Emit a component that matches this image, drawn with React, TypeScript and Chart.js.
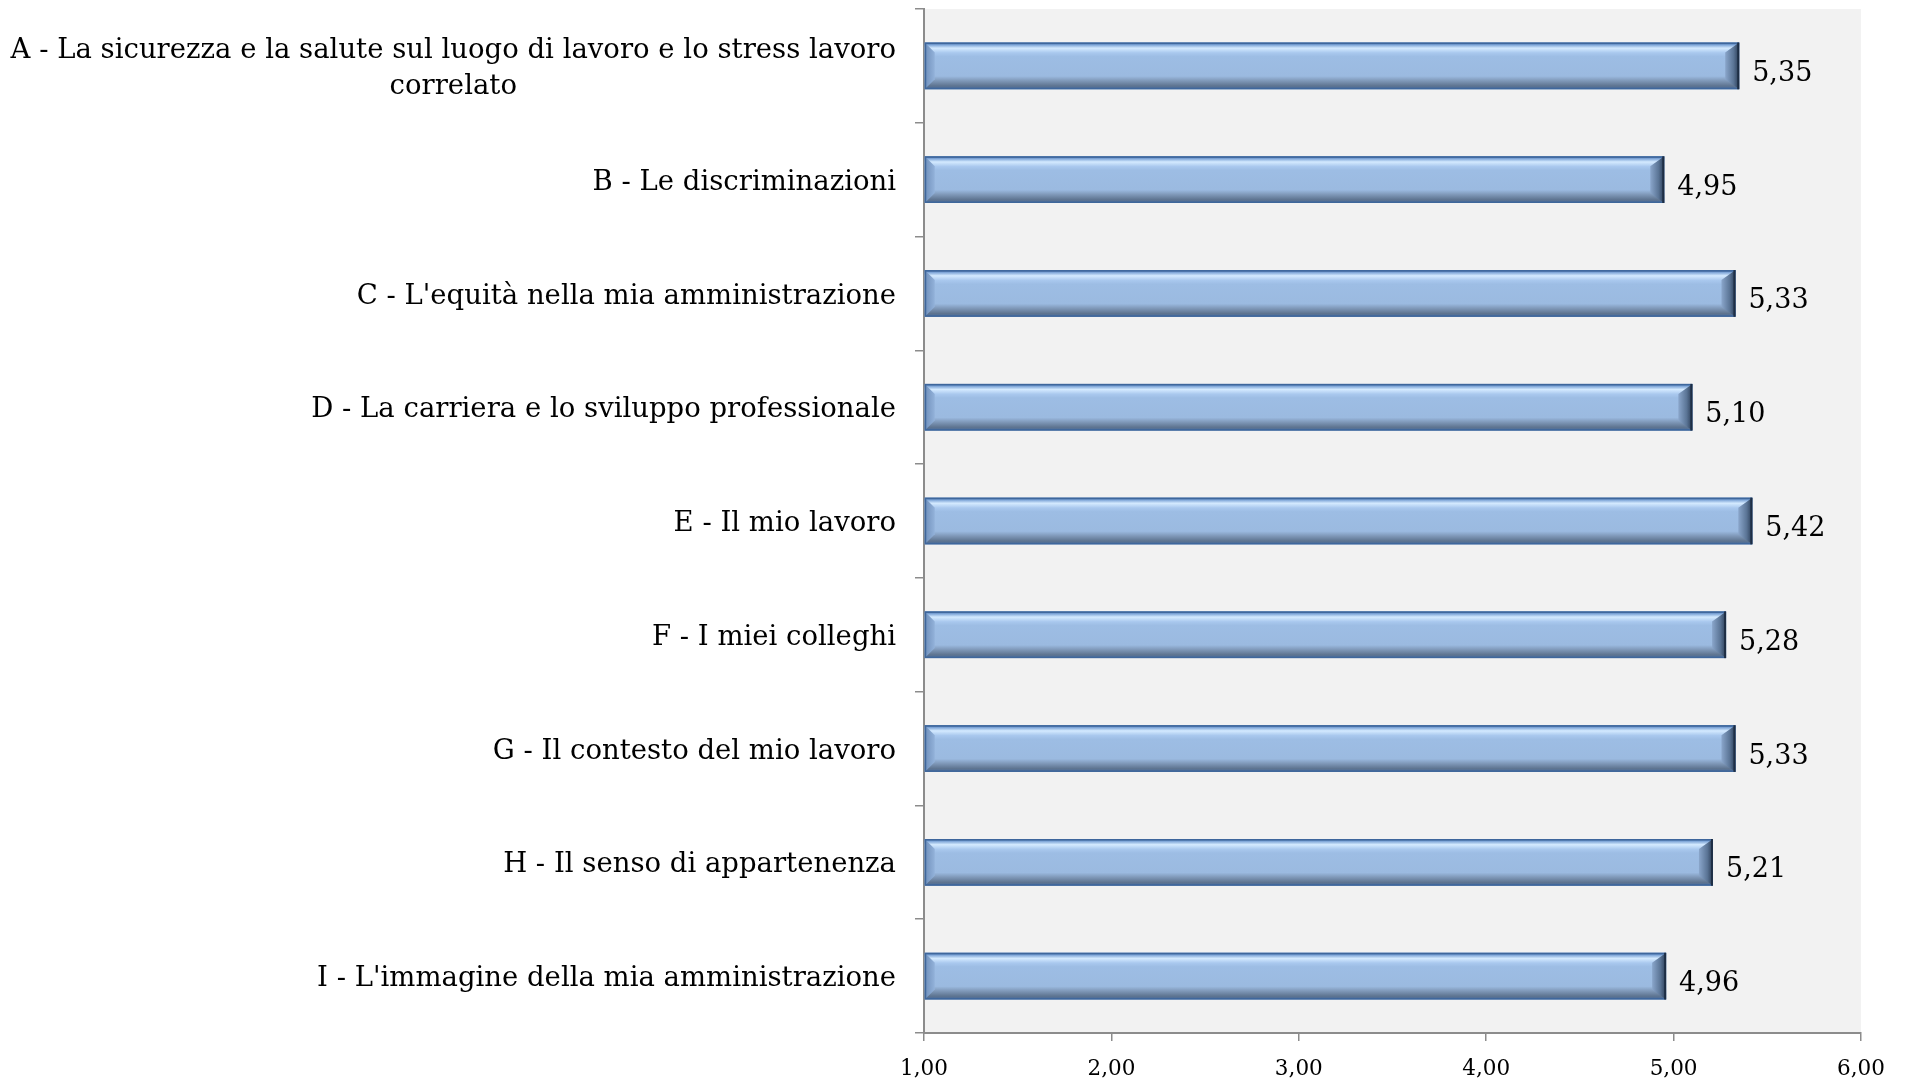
import React, { useEffect, useRef } from "react";
import { Chart, registerables } from "chart.js";

Chart.register(...registerables);

const categories: string[][] = [
  ["A - La sicurezza e la salute sul luogo di lavoro e lo stress lavoro", "correlato"],
  ["B - Le discriminazioni"],
  ["C - L'equità nella mia amministrazione"],
  ["D - La carriera e lo sviluppo professionale"],
  ["E - Il mio lavoro"],
  ["F - I miei colleghi"],
  ["G - Il contesto del mio lavoro"],
  ["H - Il senso di appartenenza"],
  ["I - L'immagine della mia amministrazione"],
];
const values: number[] = [5.35, 4.95, 5.33, 5.1, 5.42, 5.28, 5.33, 5.21, 4.96];
const xMin = 1;
const xMax = 6;
const xStep = 1;

const fmt = (v: number) => v.toFixed(2).replace(".", ",");

const bgPlugin = {
  id: "plotBg",
  beforeDraw(chart: any) {
    const { ctx, chartArea } = chart;
    ctx.save();
    ctx.fillStyle = "#F2F2F2";
    ctx.fillRect(chartArea.left, chartArea.top, chartArea.right - chartArea.left, chartArea.bottom - chartArea.top);
    ctx.restore();
  },
};

const bevelPlugin = {
  id: "bevel",
  afterDatasetsDraw(chart: any) {
    const { ctx } = chart;
    const meta = chart.getDatasetMeta(0);
    meta.data.forEach((bar: any) => {
      const { x, y, base, height } = bar.getProps(["x", "y", "base", "height"], true);
      const L = base;
      const R = x;
      const T = y - height / 2;
      const B = y + height / 2;
      const bv = 10;
      ctx.save();
      const g = ctx.createLinearGradient(0, T, 0, B);
      g.addColorStop(0, "#3E6CA6");
      g.addColorStop(0.05, "#7FA6D8");
      g.addColorStop(0.12, "#D4EAFF");
      g.addColorStop(0.22, "#A9C8EE");
      g.addColorStop(0.3, "#9DBDE4");
      g.addColorStop(0.72, "#9BBAE0");
      g.addColorStop(0.82, "#7F98B8");
      g.addColorStop(0.93, "#5E7490");
      g.addColorStop(1, "#4A6E9E");
      ctx.fillStyle = g;
      ctx.fillRect(L, T, R - L, B - T);
      ctx.beginPath();
      ctx.moveTo(L, T);
      ctx.lineTo(L + bv, T + bv);
      ctx.lineTo(L + bv, B - bv);
      ctx.lineTo(L, B);
      ctx.closePath();
      const gl = ctx.createLinearGradient(L, 0, L + bv, 0);
      gl.addColorStop(0, "#6F8FBA");
      gl.addColorStop(1, "#93B2DA");
      ctx.fillStyle = gl;
      ctx.fill();
      ctx.beginPath();
      ctx.moveTo(R, T);
      ctx.lineTo(R - bv - 4, T + bv);
      ctx.lineTo(R - bv - 4, B - bv);
      ctx.lineTo(R, B);
      ctx.closePath();
      const gr = ctx.createLinearGradient(R - bv - 4, 0, R, 0);
      gr.addColorStop(0, "#8AA6CB");
      gr.addColorStop(0.6, "#5A7495");
      gr.addColorStop(1, "#2A3C55");
      ctx.fillStyle = gr;
      ctx.fill();
      ctx.strokeStyle = "#3F679C";
      ctx.lineWidth = 1.5;
      ctx.strokeRect(L + 0.75, T + 0.75, R - L - 1.5, B - T - 1.5);
      ctx.fillStyle = "#1E2E44";
      ctx.fillRect(R - 2, T, 2, B - T);
      ctx.restore();
    });
  },
};

const labelsPlugin = {
  id: "customLabels",
  afterDraw(chart: any) {
    const { ctx, chartArea } = chart;
    const yScale = chart.scales.y;
    ctx.save();
    ctx.fillStyle = "#000000";
    ctx.font = "27.5px 'DejaVu Serif'";
    ctx.textAlign = "center";
    ctx.textBaseline = "middle";
    const lineH = 36;
    const rightEdge = chartArea.left - 28;
    categories.forEach((lines, i) => {
      const cy = yScale.getPixelForValue(i) + 3;
      const maxW = Math.max(...lines.map((l) => ctx.measureText(l).width));
      const cx = rightEdge - maxW / 2;
      lines.forEach((l, j) => {
        ctx.fillText(l, cx, cy + (j - (lines.length - 1) / 2) * lineH);
      });
    });
    ctx.font = "27px 'DejaVu Serif'";
    ctx.textAlign = "left";
    const meta = chart.getDatasetMeta(0);
    meta.data.forEach((bar: any, i: number) => {
      const { x, y } = bar.getProps(["x", "y"], true);
      ctx.fillText(fmt(values[i]), x + 13, y + 8);
    });
    ctx.restore();
  },
};

export default function App() {
  const ref = useRef<HTMLCanvasElement | null>(null);
  useEffect(() => {
    document.body.style.margin = "0";
    const canvas = ref.current;
    if (!canvas) return;
    const chart = new Chart(canvas, {
      type: "bar",
      data: {
        labels: categories.map((c) => c.join(" ")),
        datasets: [
          {
            data: values,
            base: xMin,
            backgroundColor: "#9DBCE3",
            borderWidth: 0,
            categoryPercentage: 1,
            barPercentage: 0.41,
          },
        ],
      },
      options: {
        indexAxis: "y",
        animation: false,
        responsive: false,
        maintainAspectRatio: false,
        layout: { padding: { top: 9, right: 46, left: 0, bottom: 0 } },
        plugins: {
          legend: { display: false },
          tooltip: { enabled: false },
        },
        scales: {
          x: {
            type: "linear",
            min: xMin,
            max: xMax,
            grid: {
              drawOnChartArea: false,
              drawTicks: true,
              tickLength: 8,
              color: "#8C8C8C",
              lineWidth: 1.5,
            },
            border: { display: true, color: "#8C8C8C", width: 2 },
            ticks: {
              stepSize: xStep,
              color: "#000000",
              font: { family: "'DejaVu Serif'", size: 21.5 },
              padding: 16,
              maxRotation: 0,
              callback: (v: any) => fmt(Number(v)),
            },
            afterFit: (scale: any) => {
              scale.height = 47;
            },
          },
          y: {
            type: "category",
            offset: true,
            grid: {
              drawOnChartArea: false,
              drawTicks: true,
              tickLength: 9,
              color: "#8C8C8C",
              lineWidth: 1.5,
              offset: true,
            },
            border: { display: true, color: "#8C8C8C", width: 2 },
            ticks: { display: false },
            afterFit: (scale: any) => {
              scale.width = 924;
            },
          },
        },
      },
      plugins: [bgPlugin, bevelPlugin, labelsPlugin],
    });
    return () => chart.destroy();
  }, []);
  return (
    <div style={{ position: "absolute", left: 0, top: 0, width: 1907, height: 1080 }}>
      <canvas ref={ref} width={1907} height={1080} style={{ width: 1907, height: 1080, display: "block" }} />
    </div>
  );
}
